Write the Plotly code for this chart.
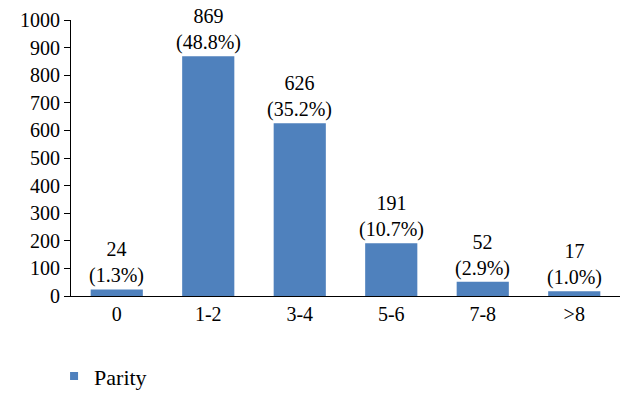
import plotly.graph_objects as go

categories = ["0", "1-2", "3-4", "5-6", "7-8", ">8"]
counts = [24, 869, 626, 191, 52, 17]
percents = ["1.3%", "48.8%", "35.2%", "10.7%", "2.9%", "1.0%"]
tick_vals = [0, 100, 200, 300, 400, 500, 600, 700, 800, 900, 1000]

FONT = "Liberation Serif"
BLUE = "#4F81BD"

fig = go.Figure()
fig.add_trace(go.Bar(
    x=categories, y=counts, name="Parity", showlegend=False,
    marker=dict(color=BLUE, line=dict(width=0)),
))
# legend entry with a small square marker
fig.add_trace(go.Scatter(
    x=[None], y=[None], mode="markers", name="Parity",
    marker=dict(symbol="square", size=8, color=BLUE),
))

for c, v, p in zip(categories, counts, percents):
    fig.add_annotation(x=c, y=v, xref="x", yref="y", text=f"{v}<br>({p})", showarrow=False,
                       yanchor="bottom", yshift=1, borderpad=0,
                       font=dict(family=FONT, size=20, color="black"))

fig.update_layout(
    width=636, height=401,
    margin=dict(l=71, r=16, t=20, b=105, autoexpand=False),
    paper_bgcolor="white", plot_bgcolor="white",
    font=dict(family=FONT, size=20, color="black"),
    bargap=0.43,
    showlegend=True,
    legend=dict(orientation="h", xref="container", yref="container",
                x=0.085, xanchor="left", y=0.062, yanchor="middle",
                font=dict(size=22), bgcolor="rgba(0,0,0,0)"),
)
fig.update_xaxes(showline=True, linecolor="black", linewidth=1, ticks="", showgrid=False,
                 tickfont=dict(size=20), automargin=False, fixedrange=True)
fig.update_yaxes(range=[0, 1000], tickvals=tick_vals, showline=True, linecolor="black",
                 linewidth=1, ticks="outside", ticklen=6, tickcolor="black",
                 showgrid=False, zeroline=False, tickfont=dict(size=20), automargin=False,
                 fixedrange=True)

fig.write_html("out.html", config={"displayModeBar": False},
               post_script="document.body.style.margin='0';")
